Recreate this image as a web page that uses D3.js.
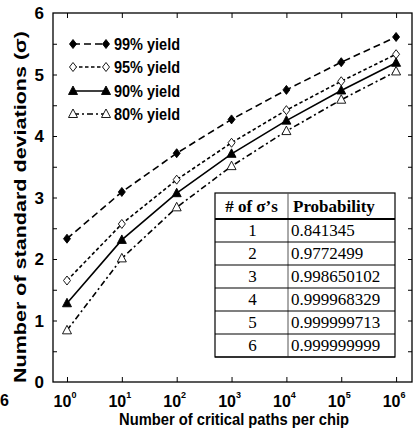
<!DOCTYPE html>
<html><head><meta charset="utf-8">
<script src="https://cdn.jsdelivr.net/npm/d3@7"></script>
<style>body{margin:0;background:#fff}svg{display:block}</style>
</head><body>
<script>
const paths = [1, 10, 100, 1000, 10000, 100000, 1000000];
const tickExponents = [0, 1, 2, 3, 4, 5, 6];
const yTicks = [0, 1, 2, 3, 4, 5, 6];
const seriesNames = ["99% yield", "95% yield", "90% yield", "80% yield"];
const yield99 = [2.33, 3.09, 3.72, 4.27, 4.75, 5.20, 5.61];
const yield95 = [1.65, 2.57, 3.29, 3.89, 4.42, 4.89, 5.33];
const yield90 = [1.28, 2.31, 3.07, 3.71, 4.25, 4.74, 5.19];
const yield80 = [0.84, 2.01, 2.84, 3.51, 4.08, 4.59, 5.05];
const tableHeader = ["# of σ’s", "Probability"];
const sigmaCounts = ["1", "2", "3", "4", "5", "6"];
const probabilities = ["0.841345", "0.9772499", "0.998650102", "0.999968329", "0.999999713", "0.999999999"];

const W = 420, H = 440;
const svg = d3.select("body").append("svg").attr("width", W).attr("height", H);
const L = 53, R = 412, T = 13, B = 382;
const x = d3.scaleLog().domain([Math.pow(10, -0.255), Math.pow(10, 6.29)]).range([L, R]);
const y = d3.scaleLinear().domain([0, 6]).range([B, T]);

const styles = [
  {dash: "7,4", marker: "diamond", fill: "#000"},
  {dash: "3.5,2.5", marker: "diamond", fill: "#fff"},
  {dash: null, marker: "triangle", fill: "#000"},
  {dash: "6,3,2,3", marker: "triangle", fill: "#fff"}
];
const series = [yield99, yield95, yield90, yield80];

// frame
svg.append("rect").attr("x", L).attr("y", T).attr("width", R - L).attr("height", B - T)
  .attr("fill", "none").attr("stroke", "#000").attr("stroke-width", 1.3);

// axes with inward ticks
const xb = svg.append("g").attr("transform", `translate(0,${B})`)
  .call(d3.axisTop(x).tickValues(paths).tickSize(5).tickFormat(""));
const xt = svg.append("g").attr("transform", `translate(0,${T})`)
  .call(d3.axisBottom(x).tickValues(paths).tickSize(5).tickFormat(""));
const halfTicks = d3.range(0.5, 6, 0.5);
const yl = svg.append("g").attr("transform", `translate(${L},0)`)
  .call(d3.axisRight(y).tickValues(halfTicks).tickSize(4).tickFormat(""));
const yr = svg.append("g").attr("transform", `translate(${R},0)`)
  .call(d3.axisLeft(y).tickValues(halfTicks).tickSize(4).tickFormat(""));
[xb, xt, yl, yr].forEach(g => { g.select(".domain").remove(); g.selectAll("line").attr("stroke-width", 1); });

const sans = "Liberation Sans, Arial, sans-serif";
// y tick labels
svg.append("g").selectAll("text").data(yTicks).join("text")
  .attr("x", L - 9).attr("y", d => y(d)).attr("dy", "0.36em")
  .attr("text-anchor", "end").attr("font-family", sans)
  .attr("font-weight", "bold").attr("font-size", 17).text(d => d);

// x tick labels
const xl = svg.append("g").selectAll("text").data(tickExponents).join("text")
  .attr("x", d => x(Math.pow(10, d)) - 2).attr("y", B + 25)
  .attr("text-anchor", "middle").attr("font-family", sans)
  .attr("font-weight", "bold").attr("font-size", 16);
xl.append("tspan").text("10");
xl.append("tspan").attr("dy", -9).attr("font-size", 9).text(d => d);

// stray glyph at left edge
svg.append("text").attr("x", 0).attr("y", 406).attr("font-family", sans)
  .attr("font-weight", "bold").attr("font-size", 16).text("6");

// axis titles
svg.append("text").attr("x", 234).attr("y", 425).attr("text-anchor", "middle")
  .attr("font-family", sans).attr("font-weight", "bold")
  .attr("font-size", 16).attr("textLength", 230).attr("lengthAdjust", "spacingAndGlyphs")
  .text("Number of critical paths per chip");
svg.append("text").attr("transform", "translate(26,207) rotate(-90)").attr("text-anchor", "middle")
  .attr("font-family", sans).attr("font-weight", "bold")
  .attr("font-size", 17).attr("textLength", 352).attr("lengthAdjust", "spacingAndGlyphs")
  .text("Number of standard deviations (σ)");

function markerPath(type) {
  if (type === "diamond") return "M0,-4.5L3.5,0L0,4.5L-3.5,0Z";
  return "M0,-5L4.5,3.5L-4.5,3.5Z";
}

// lines and markers
const line = d3.line().x((d, i) => x(paths[i])).y(d => y(d));
series.forEach((vals, si) => {
  const st = styles[si];
  svg.append("path").datum(vals).attr("d", line).attr("fill", "none")
    .attr("stroke", "#000").attr("stroke-width", 1.6)
    .attr("stroke-dasharray", st.dash);
  svg.append("g").selectAll("path").data(vals).join("path")
    .attr("transform", (d, i) => `translate(${x(paths[i])},${y(d)})`)
    .attr("d", markerPath(st.marker)).attr("fill", st.fill)
    .attr("stroke", "#000").attr("stroke-width", 0.9);
});

// legend
const legY = [44, 67, 91, 114];
seriesNames.forEach((name, i) => {
  const st = styles[i];
  const g = svg.append("g");
  g.append("line").attr("x1", 73).attr("x2", 106).attr("y1", legY[i]).attr("y2", legY[i])
    .attr("stroke", "#000").attr("stroke-width", 1.6).attr("stroke-dasharray", st.dash);
  [73, 106].forEach(px => g.append("path").attr("transform", `translate(${px},${legY[i]})`)
    .attr("d", markerPath(st.marker)).attr("fill", st.fill).attr("stroke", "#000").attr("stroke-width", 0.9));
  g.append("text").attr("x", 114).attr("y", legY[i]).attr("dy", "0.36em")
    .attr("font-family", sans).attr("font-weight", "bold")
    .attr("font-size", 16).attr("textLength", 66).attr("lengthAdjust", "spacingAndGlyphs").text(name);
});

// table
const tL = 215, tR = 395, tDiv = 288, tTop = 193, hdrB = 219, rowH = 23;
const tb = svg.append("g");
tb.append("rect").attr("x", tL).attr("y", tTop).attr("width", tR - tL)
  .attr("height", hdrB + rowH * 6 - tTop).attr("fill", "#fff").attr("stroke", "#000").attr("stroke-width", 1.2);
tb.append("line").attr("x1", tDiv).attr("x2", tDiv).attr("y1", tTop).attr("y2", hdrB + rowH * 6)
  .attr("stroke", "#555").attr("stroke-width", 1);
d3.range(7).forEach(i => tb.append("line").attr("x1", tL).attr("x2", tR)
  .attr("y1", hdrB + rowH * i).attr("y2", hdrB + rowH * i).attr("stroke", "#000")
  .attr("stroke-width", i === 0 ? 1.8 : 1.2));
const serif = "Liberation Serif, Times New Roman, serif";
tb.append("text").attr("x", (tL + tDiv) / 2).attr("y", 212).attr("text-anchor", "middle")
  .attr("font-family", serif).attr("font-weight", "bold").attr("font-size", 17).text(tableHeader[0]);
tb.append("text").attr("x", 293).attr("y", 212)
  .attr("font-family", serif).attr("font-weight", "bold").attr("font-size", 17).text(tableHeader[1]);
tb.selectAll(".n").data(sigmaCounts).join("text")
  .attr("x", (tL + tDiv) / 2 + 1).attr("y", (d, i) => hdrB + rowH * i + 17).attr("text-anchor", "middle")
  .attr("font-family", serif).attr("font-size", 17).text(d => d);
tb.selectAll(".p").data(probabilities).join("text")
  .attr("x", 291).attr("y", (d, i) => hdrB + rowH * i + 17)
  .attr("font-family", serif).attr("font-size", 17).text(d => d);
</script>
</body></html>
